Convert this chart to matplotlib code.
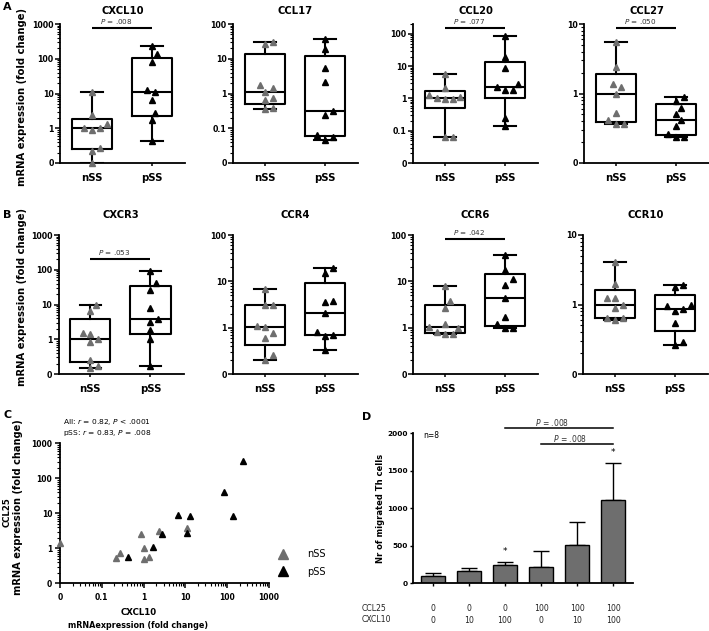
import numpy as np
import matplotlib
matplotlib.use('Agg')
import matplotlib.pyplot as plt
from matplotlib.ticker import FixedLocator, FixedFormatter, LogLocator, NullFormatter
from matplotlib.lines import Line2D
from matplotlib.transforms import blended_transform_factory

# ---------------- data ----------------
groups = ['nSS', 'pSS']

cxcl10_nss = [0, 0.22, 0.27, 0.87, 1.0, 1.0, 1.35, 2.4, 11]
cxcl10_pss = [0.42, 1.7, 2.8, 6.6, 10.8, 12.6, 83, 134, 233]
ccl17_nss = [0.35, 0.39, 0.63, 0.73, 1.1, 1.41, 1.76, 26, 30]
ccl17_pss = [0.047, 0.055, 0.066, 0.24, 0.32, 2.15, 5.25, 19, 37]
ccl20_nss = [0.062, 0.066, 0.95, 0.95, 1.0, 1.15, 1.3, 2.1, 5.8]
ccl20_pss = [0.14, 0.25, 1.86, 1.86, 2.25, 2.9, 8.7, 19, 88]
ccl27_nss = [0.36, 0.37, 0.42, 0.53, 1.0, 1.22, 1.38, 2.4, 5.6]
ccl27_pss = [0.235, 0.24, 0.26, 0.34, 0.42, 0.51, 0.62, 0.79, 0.9]
cxcr3_nss = [0.15, 0.175, 0.26, 0.85, 1.0, 1.45, 1.5, 6.3, 10]
cxcr3_pss = [0.17, 1.0, 1.87, 3.2, 3.8, 7.8, 26, 41, 95]
ccr4_nss = [0.2, 0.26, 0.59, 0.78, 1.05, 1.1, 3.1, 3.1, 7.0]
ccr4_pss = [0.33, 0.67, 0.69, 0.81, 2.05, 3.5, 3.8, 14.9, 19]
ccr6_nss = [0.73, 0.73, 0.8, 1.0, 1.04, 1.2, 2.6, 3.7, 7.9]
ccr6_pss = [0.96, 0.96, 1.2, 1.73, 4.3, 8.3, 11, 18, 37]
ccr10_nss = [0.59, 0.65, 0.65, 0.88, 1.0, 1.23, 1.23, 1.96, 4.1]
ccr10_pss = [0.26, 0.29, 0.54, 0.81, 0.87, 0.95, 0.99, 1.78, 1.9]

# p-value bars: (height of bar in data units, text)
p_cxcl10 = (750, '.008')
p_ccl20 = (156, '.077')
p_ccl27 = (8.7, '.050')
p_cxcr3 = (204, '.053')
p_ccr6 = (81, '.042')

# panel C: CCL25 paired with CXCL10 (same patient order)
ccl25_nss = [1.39, 0.52, 0.72, 2.6, 1.0, 0.49, 0.55, 3.2, 3.7]
ccl25_pss = [0.57, 1.07, 2.5, 8.9, 2.8, 8.3, 41, 8.3, 309]

# panel D
d_ccl25 = ['0', '0', '0', '100', '100', '100']
d_cxcl10 = ['0', '10', '100', '0', '10', '100']
d_mean = [103, 170, 246, 223, 513, 1116]
d_err = [31, 40, 44, 214, 299, 491]
d_star = [2, 5]
d_pbars = [(2, 5, 2067, '.008'), (3, 5, 1853, '.008')]

# ---------------- figure ----------------
W, H = 709, 631
plt.rcParams['font.family'] = ['DejaVu Sans']
fig = plt.figure(figsize=(W / 100, H / 100), dpi=100)
GRAY = '#6e6e6e'
LW = 1.5


def add_ax(l, t, w, h):
    return fig.add_axes([l / W, 1 - (t + h) / H, w / W, h / H])


def bstats(v, floor):
    v = np.clip(np.asarray(v, float), floor, None)
    q1, med, q3 = np.percentile(v, [25, 50, 75], method='weibull')
    return dict(med=med, q1=q1, q3=q3, whislo=v.min(), whishi=v.max(), fliers=[])


def swarm_offsets(vals, ax, d=7.8):
    pos = ax.get_position()
    x0, x1 = ax.get_xlim()
    y0, y1 = ax.get_ylim()
    xs = pos.width * W / (x1 - x0)
    ys = pos.height * H / (np.log10(y1) - np.log10(y0))
    yp = np.log10(vals) * ys
    order = np.argsort(vals, kind='stable')
    placed = []
    offs = np.zeros(len(vals))
    cands = [0.0] + [s * k * d / 3 for k in range(1, 40) for s in (1, -1)]
    for i in order:
        for c in cands:
            if all((c - px) ** 2 + (yp[i] - py) ** 2 >= d * d for px, py in placed):
                break
        offs[i] = c / xs
        placed.append((c, yp[i]))
    return offs


def style_axes(ax):
    for s in ('top', 'right'):
        ax.spines[s].set_visible(False)
    for s in ('left', 'bottom'):
        ax.spines[s].set_linewidth(1.3)


def log_ticks(axis, ticks, labels):
    axis.set_major_locator(FixedLocator(ticks))
    axis.set_major_formatter(FixedFormatter(labels))
    axis.set_minor_locator(LogLocator(base=10, subs=np.arange(2, 10), numticks=50))
    axis.set_minor_formatter(NullFormatter())


def box_panel(left, top, nss, pss, ylo, yhi, ticks, labels, title, title_y, pbar=None):
    ax = add_ax(left, top, 125, 139)
    ax.set_yscale('log')
    ax.set_ylim(ylo, yhi)
    ax.set_xlim(-0.53, 1.55)
    style_axes(ax)
    lp = dict(color='k', lw=LW)
    ax.bxp([bstats(nss, ylo), bstats(pss, ylo)], positions=[0, 1], widths=0.67,
           capwidths=0.36, showfliers=False, boxprops=lp, whiskerprops=lp,
           capprops=lp, medianprops=lp, manage_ticks=False)
    for vals, pos, col in ((nss, 0, GRAY), (pss, 1, 'k')):
        v = np.clip(np.asarray(vals, float), ylo, None)
        offs = swarm_offsets(v, ax)
        ax.plot(pos + offs, v, ls='none', marker='^', ms=5, color=col, mec=col,
                zorder=4, clip_on=False)
    log_ticks(ax.yaxis, ticks, labels)
    ax.tick_params(axis='y', which='major', length=3.5, width=1.1, pad=1, labelsize=5.7)
    ax.tick_params(axis='y', which='minor', length=2, width=0.8)
    ax.set_xticks([0, 1])
    ax.set_xticklabels(groups)
    ax.tick_params(axis='x', length=2.5, width=1.1, pad=4.5, labelsize=7.3)
    for lab in ax.get_xticklabels() + ax.get_yticklabels():
        lab.set_fontweight('bold')
    ax.text(0.5, 1 + (top - title_y) / 139, title, transform=ax.transAxes,
            ha='center', va='center', fontsize=7.2, fontweight='bold')
    if pbar is not None:
        py, ptxt = pbar
        ax.plot([0, 1], [py, py], color='k', lw=LW, clip_on=False, solid_capstyle='butt')
        ax.annotate('$P$ = ' + ptxt, xy=(0.4, py), xytext=(0, 4.6),
                    textcoords='offset points', ha='center', va='center',
                    fontsize=5.2, color='#333333', annotation_clip=False)
    return ax


dec4 = [0.1, 1, 10, 100, 1000]
lab4 = ['0', '1', '10', '100', '1000']
dec4b = [0.01, 0.1, 1, 10, 100]
lab4b = ['0', '0.1', '1', '10', '100']
dec3 = [0.1, 1, 10, 100]
lab3 = ['0', '1', '10', '100']
dec2 = [0.1, 1, 10]
lab2 = ['0', '1', '10']

# Row A
box_panel(60, 24, cxcl10_nss, cxcl10_pss, 0.1, 1000, dec4, lab4, 'CXCL10', 11.5, p_cxcl10)
box_panel(233, 24, ccl17_nss, ccl17_pss, 0.01, 100, dec4b, lab4b, 'CCL17', 11.5)
box_panel(413, 24, ccl20_nss, ccl20_pss, 0.01, 10 ** 2.31, dec4b, lab4b, 'CCL20', 11.5, p_ccl20)
box_panel(584, 24, ccl27_nss, ccl27_pss, 0.1, 10, dec2, lab2, 'CCL27', 11.5, p_ccl27)
# Row B
box_panel(58.5, 235, cxcr3_nss, cxcr3_pss, 0.1, 1000, dec4, lab4, 'CXCR3', 215, p_cxcr3)
box_panel(233, 235, ccr4_nss, ccr4_pss, 0.1, 100, dec3, lab3, 'CCR4', 215)
box_panel(413, 235, ccr6_nss, ccr6_pss, 0.1, 100, dec3, lab3, 'CCR6', 215, p_ccr6)
box_panel(583, 235, ccr10_nss, ccr10_pss, 0.1, 10, dec2, lab2, 'CCR10', 215)

for yc in (97, 297):
    fig.text(21.7 / W, 1 - yc / H, 'mRNA expression (fold change)', rotation=90,
             ha='center', va='center', fontsize=7.2, fontweight='bold')

# ---------------- Panel C ----------------
axC = add_ax(60, 443.3, 209, 140)
axC.set_xscale('log')
axC.set_yscale('log')
axC.set_xlim(0.01, 1000)
axC.set_ylim(0.1, 1000)
style_axes(axC)
axC.plot(np.clip(cxcl10_nss, 0.01, None), np.clip(ccl25_nss, 0.1, None), ls='none',
         marker='^', ms=5, color=GRAY, mec=GRAY, clip_on=False, zorder=3)
axC.plot(np.clip(cxcl10_pss, 0.01, None), np.clip(ccl25_pss, 0.1, None), ls='none',
         marker='^', ms=5, color='k', mec='k', clip_on=False, zorder=3)
log_ticks(axC.xaxis, [0.01, 0.1, 1, 10, 100, 1000], ['0', '0.1', '1', '10', '100', '1000'])
log_ticks(axC.yaxis, dec4, lab4)
axC.tick_params(which='major', length=3.5, width=1.1, labelsize=5.5)
axC.tick_params(axis='x', which='major', pad=3.3)
axC.tick_params(axis='y', which='major', pad=2)
axC.tick_params(which='minor', length=2, width=0.8)
for lab in axC.get_xticklabels() + axC.get_yticklabels():
    lab.set_fontweight('bold')
axC.text(0.014, 1.152, 'All: $r$ = 0.82, $P$ < .0001', transform=axC.transAxes,
         ha='left', va='center', fontsize=5.4)
axC.text(0.014, 1.07, 'pSS: $r$ = 0.83, $P$ = .008', transform=axC.transAxes,
         ha='left', va='center', fontsize=5.4)
handles = [Line2D([], [], ls='none', marker='^', ms=7.5, color=GRAY, mec=GRAY),
           Line2D([], [], ls='none', marker='^', ms=7.5, color='k', mec='k')]
axC.legend(handles, groups, loc='center left', bbox_to_anchor=(1.043, 0.146),
           frameon=False, borderpad=0, borderaxespad=0, handlelength=1.0,
           handletextpad=2.0, labelspacing=0.8, fontsize=7)
fig.text(6.7 / W, 1 - 511.7 / H, 'CCL25', rotation=90, ha='center', va='center',
         fontsize=6.2, fontweight='bold')
fig.text(18.3 / W, 1 - 506.7 / H, 'mRNA expression (fold change)', rotation=90,
         ha='center', va='center', fontsize=7.1, fontweight='bold')
fig.text(139 / W, 1 - 612.3 / H, 'CXCL10', ha='center', va='center', fontsize=6.2,
         fontweight='bold')
fig.text(138.5 / W, 1 - 626 / H, 'mRNAexpression (fold change)', ha='center',
         va='center', fontsize=5.8, fontweight='bold')

# ---------------- Panel D ----------------
axD = add_ax(413, 433.3, 220, 150)
style_axes(axD)
xd = np.arange(len(d_mean))
axD.bar(xd, d_mean, width=0.66, color=GRAY, edgecolor='k', lw=1.0, zorder=2)
axD.errorbar(xd, d_mean, yerr=[np.zeros(len(d_err)), d_err], fmt='none', ecolor='k',
             elinewidth=1.0, capsize=6, capthick=1.0, zorder=1)
axD.set_xlim(-0.55, 5.55)
axD.set_ylim(0, 2000)
axD.set_yticks([0, 500, 1000, 1500, 2000])
axD.set_xticks(xd)
axD.set_xticklabels([])
axD.tick_params(axis='y', length=2.5, width=1.0, pad=1, labelsize=5.3)
axD.tick_params(axis='x', length=2.5, width=1.0)
for lab in axD.get_yticklabels():
    lab.set_fontweight('bold')
for i in d_star:
    axD.annotate('*', xy=(i, d_mean[i] + d_err[i]), xytext=(0, 4), textcoords='offset points',
                 ha='center', va='bottom', fontsize=6.5)
for x0, x1, py, ptxt in d_pbars:
    axD.plot([x0, x1], [py, py], color='k', lw=1.1, clip_on=False)
    axD.annotate('$P$ = ' + ptxt, xy=((x0 + x1) / 2 - 0.2, py), xytext=(0, 4.1),
                 textcoords='offset points', ha='center', va='center', fontsize=5.5,
                 color='#333333', annotation_clip=False)
blend = blended_transform_factory(axD.transData, axD.transAxes)
for i in xd:
    axD.text(i, -0.167, d_ccl25[i], transform=blend, ha='center', va='center',
             fontsize=5.6, color='#222222')
    axD.text(i, -0.245, d_cxcl10[i], transform=blend, ha='center', va='center',
             fontsize=5.6, color='#222222')
fig.text(362 / W, 1 - 608.3 / H, 'CCL25', ha='left', va='center', fontsize=5.6, color='#222222')
fig.text(362 / W, 1 - 620 / H, 'CXCL10', ha='left', va='center', fontsize=5.6, color='#222222')
fig.text(423 / W, 1 - 435 / H, 'n=8', ha='left', va='center', fontsize=5.5)
fig.text(380 / W, 1 - 508 / H, 'Nr of migrated Th cells', rotation=90, ha='center',
         va='center', fontsize=6, fontweight='bold')

# panel letters
for letter, (px, py) in zip('ABCD', [(3, 7), (3, 215), (3, 415), (362, 417)]):
    fig.text(px / W, 1 - py / H, letter, ha='left', va='center', fontsize=8,
             fontweight='bold')

fig.savefig('out.png', dpi=100)
